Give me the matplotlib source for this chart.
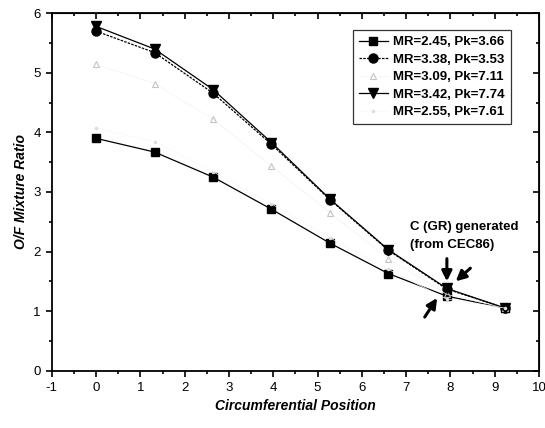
import matplotlib.pyplot as plt
from matplotlib.ticker import MultipleLocator

plt.rcParams['font.family'] = ['Liberation Sans', 'DejaVu Sans']
plt.rcParams['axes.unicode_minus'] = False

# circumferential positions
pos = [0, 1.32, 2.64, 3.96, 5.28, 6.6, 7.92, 9.24]

# O/F mixture ratio for each case
mr245 = [3.90, 3.67, 3.25, 2.71, 2.14, 1.63, 1.25, 1.05]
mr338 = [5.70, 5.34, 4.66, 3.80, 2.87, 2.02, 1.37, 1.05]
mr309 = [5.14, 4.82, 4.22, 3.44, 2.65, 1.88, 1.28, 1.05]
mr342 = [5.78, 5.40, 4.72, 3.83, 2.88, 2.03, 1.38, 1.05]
mr255 = [4.08, 3.84, 3.34, 2.80, 2.23, 1.70, 1.20, 1.05]

labels = ["MR=2.45, Pk=3.66", "MR=3.38, Pk=3.53", "MR=3.09, Pk=7.11",
          "MR=3.42, Pk=7.74", "MR=2.55, Pk=7.61"]

fig = plt.figure(figsize=(5.45, 4.28), dpi=100)
ax = fig.add_axes([0.095, 0.134, 0.894, 0.835])

ax.plot(pos, mr245, '-', color='black', lw=0.9, marker='s', ms=6, label=labels[0])
ax.plot(pos, mr338, color='black', lw=0.9, ls=(0, (2, 1)), marker='o', ms=6.5, label=labels[1])
ax.plot(pos, mr309, '-', color='#f2f2f2', lw=0.5, marker='^', ms=5, mfc='none',
        mec='#c4c4c4', mew=0.8, label=labels[2])
ax.plot(pos, mr342, '-', color='black', lw=0.9, marker='v', ms=7, label=labels[3])
ax.plot(pos, mr255, '-', color='#f7f7f7', lw=0.5, marker='.', ms=3,
        mec='#dddddd', mfc='#dddddd', label=labels[4])

# annotation
ax.text(7.09, 2.42, "C (GR) generated", fontsize=9.5, fontweight='bold', va='center')
ax.text(7.09, 2.11, "(from CEC86)", fontsize=9.5, fontweight='bold', va='center')
arr = dict(arrowstyle='-|>,head_length=0.5,head_width=0.25', color='black', lw=2.2,
           shrinkA=0, shrinkB=0, mutation_scale=12)
ax.annotate("", xy=(7.92, 1.50), xytext=(7.92, 1.88), arrowprops=arr)
ax.annotate("", xy=(8.12, 1.50), xytext=(8.45, 1.72), arrowprops=arr)
ax.annotate("", xy=(7.70, 1.22), xytext=(7.42, 0.90), arrowprops=arr)

ax.set_xlim(-1, 10)
ax.set_ylim(0, 6)
ax.xaxis.set_major_locator(MultipleLocator(1))
ax.xaxis.set_minor_locator(MultipleLocator(0.5))
ax.yaxis.set_major_locator(MultipleLocator(1))
ax.yaxis.set_minor_locator(MultipleLocator(0.5))
ax.tick_params(which='both', direction='out', width=1.2, labelsize=9.5,
               top=False, right=False)
ax.tick_params(which='major', length=4.5)
ax.tick_params(which='minor', length=2.5)
for s in ax.spines.values():
    s.set_linewidth(1.3)

# mirrored ticks pointing inward on top and right
axt = ax.secondary_xaxis('top')
axt.xaxis.set_major_locator(MultipleLocator(1))
axt.xaxis.set_minor_locator(MultipleLocator(0.5))
axt.tick_params(which='both', direction='in', width=1.2, labeltop=False)
axt.tick_params(which='major', length=4.5)
axt.tick_params(which='minor', length=2.5)
axr = ax.secondary_yaxis('right')
axr.yaxis.set_major_locator(MultipleLocator(1))
axr.yaxis.set_minor_locator(MultipleLocator(0.5))
axr.tick_params(which='both', direction='in', width=1.2, labelright=False)
axr.tick_params(which='major', length=4.5)
axr.tick_params(which='minor', length=2.5)

ax.set_xlabel("Circumferential Position", fontsize=10, fontweight='bold', style='italic')
ax.set_ylabel("O/F Mixture Ratio", fontsize=10, fontweight='bold', style='italic')

leg = ax.legend(loc='upper right', bbox_to_anchor=(0.942, 0.953), borderaxespad=0,
                prop={'weight': 'bold', 'size': 9.5}, frameon=True, fancybox=False,
                edgecolor='black', handlelength=2.2, handletextpad=0.4,
                labelspacing=0.4, borderpad=0.45)
leg.get_frame().set_linewidth(0.9)

fig.savefig("out.png", dpi=100)
